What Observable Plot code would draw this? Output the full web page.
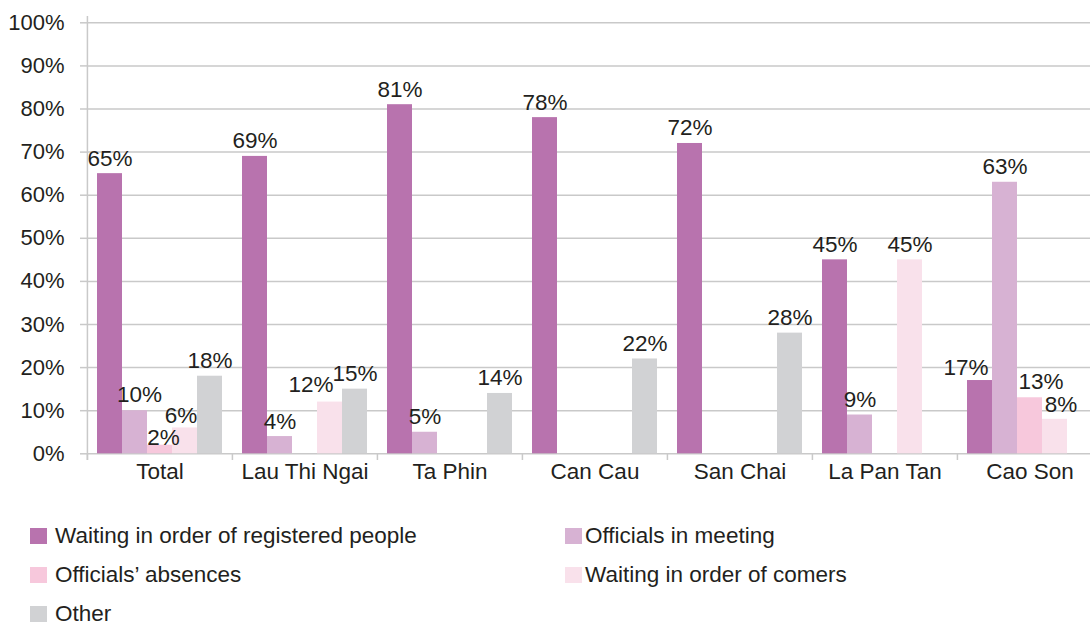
<!DOCTYPE html>
<html>
<head>
<meta charset="utf-8">
<script src="https://cdn.jsdelivr.net/npm/d3@7"></script>
<script src="https://cdn.jsdelivr.net/npm/@observablehq/plot@0.6"></script>
<style>
  html, body { margin: 0; padding: 0; background: #fff; overflow: hidden; }
  body { width: 1090px; height: 626px; font-family: "Liberation Sans", Arial, sans-serif; color: #231f20; }
  #legend { display: grid; grid-template-columns: 535px auto; grid-auto-rows: 18px; row-gap: 21px; padding-left: 30px; margin-top: 27px; font-size: 22.5px; line-height: 18px; }
  .item { display: flex; align-items: center; white-space: nowrap; height: 18px; }
  .sw { width: 17px; height: 16px; flex: none; margin-right: 8px; }
  .item.c2 .sw { margin-right: 3px; }
</style>
</head>
<body>
<div id="chart"></div>
<div id="legend"></div>
<script>
// ---- data ----
const groups = ["Total", "Lau Thi Ngai", "Ta Phin", "Can Cau", "San Chai", "La Pan Tan", "Cao Son"];
const series = ["Waiting in order of registered people", "Officials in meeting", "Officials’ absences", "Waiting in order of comers", "Other"];
const waitingRegistered = [65, 69, 81, 78, 72, 45, 17];
const officialsMeeting  = [10, 4, 5, 0, 0, 9, 63];
const officialsAbsences = [2, 0, 0, 0, 0, 0, 13];
const waitingComers     = [6, 12, 0, 0, 0, 45, 8];
const other             = [18, 15, 14, 22, 28, 0, 0];
const yTicks = [0, 10, 20, 30, 40, 50, 60, 70, 80, 90, 100];

// ---- style ----
const colors = ["#b873ae", "#d7b2d3", "#f7c8dc", "#f9e1eb", "#d1d2d4"];
const gridColor = "#c9c9c9";
const font = "'Liberation Sans', Arial, sans-serif";
const labelDy = -8;
const labelNudges = [
  {group: "Lau Thi Ngai", series: "Waiting in order of comers", dx: -19, dy: -10.5},
  {group: "Cao Son", series: "Waiting in order of registered people", dx: -14, dy: -5.5},
  {group: "Cao Son", series: "Officials’ absences", dx: 11, dy: -8.5},
  {group: "Cao Son", series: "Waiting in order of comers", dx: 6, dy: -7},
  {group: "Total", series: "Officials’ absences", dx: 3.5, dy: 0},
  {group: "Total", series: "Waiting in order of comers", dx: -4, dy: -5},
  {group: "Total", series: "Officials in meeting", dx: 4.5, dy: -8.5}
];

const valuesBySeries = [waitingRegistered, officialsMeeting, officialsAbsences, waitingComers, other];
const rows = groups.flatMap((g, i) => series.map((s, j) => ({group: g, series: s, value: valuesBySeries[j][i]})))
  .filter(d => d.value > 0);

const W = 1090, H = 500, mL = 85, mR = -13.5, mT = 16, mB = 40;
const y0 = 453.3, y100 = 22.3, padOuter = 0.4;
const facetW = (W - mL - mR) / groups.length;
const step = facetW / (series.length + 2 * padOuter);
const firstCenter = padOuter * step + step / 2;

const isNudged = d => labelNudges.some(n => n.group === d.group && n.series === d.series);
const textOpts = {fx: "group", x: "series", y: "value", text: d => d.value + "%", lineAnchor: "bottom", fontSize: 22.5, fill: "#231f20"};

const marks = [
  Plot.gridY({ticks: yTicks, stroke: gridColor, strokeOpacity: 1, strokeWidth: 1.5}),
  Plot.axisY({ticks: yTicks, tickFormat: d => d + "%", tickSize: 7, tickPadding: 16, stroke: gridColor, strokeWidth: 1.5, strokeOpacity: 1, fontSize: 22, label: null}),
  Plot.barY(rows, {fx: "group", x: "series", y: "value", fill: "series", inset: 0}),
  Plot.text(rows.filter(d => !isNudged(d)), {...textOpts, dy: labelDy}),
  ...labelNudges.map(n => Plot.text(rows.filter(d => d.group === n.group && d.series === n.series), {...textOpts, dx: n.dx, dy: n.dy})),
  Plot.ruleX([groups[0]], {fx: d => d, x: () => series[0], dx: -firstCenter, stroke: gridColor, strokeWidth: 1.5}),
  Plot.ruleX(groups, {fx: d => d, x: () => series[0], dx: -firstCenter, insetTop: y0 - mT, stroke: gridColor, strokeWidth: 1.5}),
  Plot.axisFx({anchor: "bottom", tickSize: 0, tickPadding: 3, label: null, fontSize: 22.5})
];

const chart = Plot.plot({
  width: W, height: H,
  marginLeft: mL, marginRight: mR, marginTop: mT, marginBottom: mB,
  style: {fontFamily: font, fontSize: "22.5px", color: "#231f20", background: "white", overflow: "hidden", maxWidth: "none"},
  fx: {domain: groups, padding: 0, label: null},
  x: {domain: series, paddingInner: 0, paddingOuter: padOuter, axis: null},
  y: {domain: [0, 100], range: [y0, y100], label: null},
  color: {domain: series, range: colors},
  marks
});
document.getElementById("chart").appendChild(chart);

// ---- legend ----
const legend = document.getElementById("legend");
series.forEach((s, i) => {
  const item = document.createElement("div");
  item.className = "item" + (i % 2 === 1 ? " c2" : "");
  const sw = document.createElement("span");
  sw.className = "sw";
  sw.style.background = colors[i];
  const t = document.createElement("span");
  t.textContent = s;
  item.appendChild(sw);
  item.appendChild(t);
  legend.appendChild(item);
});
</script>
</body>
</html>
